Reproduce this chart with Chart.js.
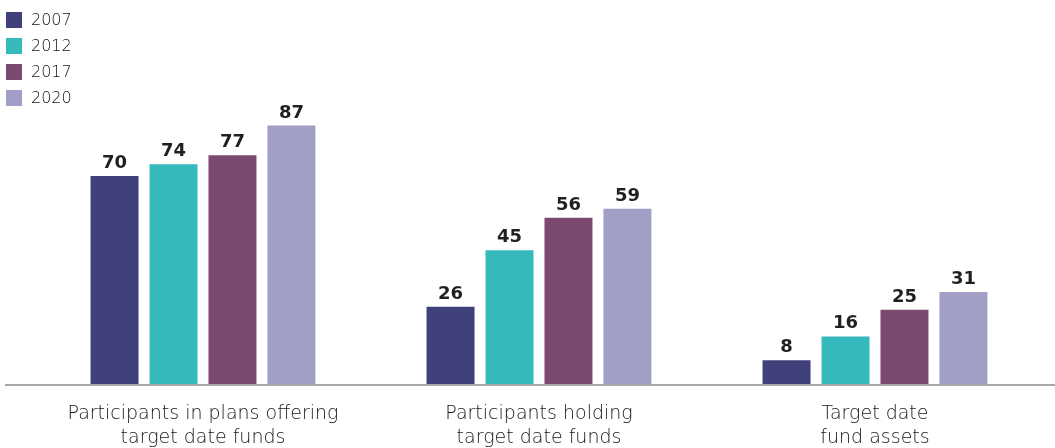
<!DOCTYPE html>
<html>
<head>
<meta charset="utf-8">
<script src="https://cdn.jsdelivr.net/npm/chart.js@4.4.1/dist/chart.umd.min.js"></script>
<style>
  html, body { margin: 0; padding: 0; background: #ffffff; }
  #wrap { width: 1055px; height: 448px; position: relative; }
</style>
</head>
<body>
<div id="wrap"><canvas id="chart" width="1055" height="448"></canvas></div>
<script>
// Categories (multi-line labels) and the share values per survey year
const categories = [
  ['Participants in plans offering', 'target date funds'],
  ['Participants holding', 'target date funds'],
  ['Target date', 'fund assets']
];
const years = ['2007', '2012', '2017', '2020'];
const values2007 = [70, 26, 8];
const values2012 = [74, 45, 16];
const values2017 = [77, 56, 25];
const values2020 = [87, 59, 31];
const colors = ['#40407a', '#36b9bd', '#7c4a6e', '#a19fc6'];

const seriesValues = [values2007, values2012, values2017, values2020];

const FONT = '"DejaVu Sans", sans-serif';

// Stacked legend in the top-left corner
const legendPlugin = {
  id: 'stackLegend',
  afterDraw(chart) {
    const ctx = chart.ctx;
    ctx.save();
    ctx.font = '200 16px ' + FONT;
    ctx.textBaseline = 'alphabetic';
    ctx.textAlign = 'left';
    chart.data.datasets.forEach((ds, i) => {
      const top = 12 + i * 26;
      ctx.fillStyle = ds.backgroundColor;
      ctx.fillRect(6, top, 16, 16);
      ctx.fillStyle = '#111111';
      ctx.fillText(ds.label, 31, top + 12.5);
    });
    ctx.restore();
  }
};

// Value labels above each bar and the baseline rule
const valuePlugin = {
  id: 'valueLabels',
  afterDatasetsDraw(chart) {
    const ctx = chart.ctx;
    ctx.save();
    const y0 = chart.scales.y.getPixelForValue(0);
    ctx.strokeStyle = '#a8a8a8';
    ctx.lineWidth = 2;
    ctx.beginPath();
    ctx.moveTo(5, y0 + 1);
    ctx.lineTo(chart.width, y0 + 1);
    ctx.stroke();

    ctx.font = 'bold 18px ' + FONT;
    ctx.fillStyle = '#231f20';
    ctx.textAlign = 'center';
    ctx.textBaseline = 'alphabetic';
    chart.data.datasets.forEach((ds, i) => {
      const meta = chart.getDatasetMeta(i);
      meta.data.forEach((bar, j) => {
        ctx.fillText(String(ds.data[j]), bar.x, bar.y - 8);
      });
    });
    ctx.restore();
  }
};

new Chart(document.getElementById('chart'), {
  type: 'bar',
  data: {
    labels: categories,
    datasets: years.map((y, i) => ({
      label: y,
      data: seriesValues[i],
      backgroundColor: colors[i],
      borderWidth: 0,
      categoryPercentage: 0.702,
      barPercentage: 0.814
    }))
  },
  options: {
    responsive: false,
    animation: false,
    devicePixelRatio: 1,
    layout: { padding: { top: 87, left: 35, right: 12, bottom: 0 } },
    plugins: {
      legend: { display: false },
      tooltip: { enabled: false }
    },
    scales: {
      x: {
        grid: { display: false, drawTicks: false },
        border: { display: false },
        afterFit(scale) { scale.height = 64; },
        ticks: {
          padding: 18,
          color: '#161616',
          font: { family: FONT, size: 19, weight: '200', lineHeight: 1.263 },
          maxRotation: 0
        }
      },
      y: {
        display: false,
        min: 0,
        max: 100
      }
    }
  },
  plugins: [legendPlugin, valuePlugin]
});
</script>
</body>
</html>
